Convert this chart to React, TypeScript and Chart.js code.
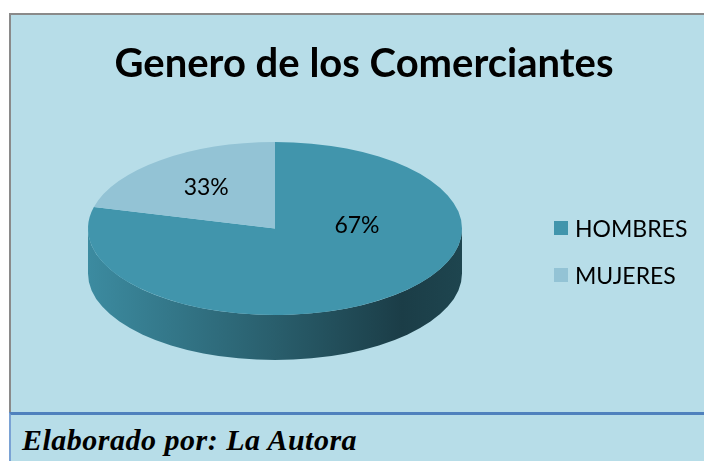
import React, { useEffect, useRef } from "react";
import { Chart, registerables } from "chart.js";

Chart.register(...registerables);

// ---- data ----
const TITLE = "Genero de los Comerciantes";
const SOURCE = "Elaborado por: La Autora";
const categories = ["HOMBRES", "MUJERES"];
// slice sizes as they appear in the picture
const shares = [79, 21];
// percentage labels printed on the slices
const pctLabels = ["67%", "33%"];
const sliceColors = ["#4195ac", "#93c3d5"];

const BG = "#b7dde8";

function shade(hex: string, f: number): string {
  const h = hex.replace("#", "");
  const r = Math.round(parseInt(h.slice(0, 2), 16) * f);
  const g = Math.round(parseInt(h.slice(2, 4), 16) * f);
  const b = Math.round(parseInt(h.slice(4, 6), 16) * f);
  return `rgb(${r},${g},${b})`;
}

function geom(chart: any, depth: number) {
  const a = chart.chartArea;
  const cx = (a.left + a.right) / 2;
  const rx = (a.right - a.left) / 2;
  const ry = (a.bottom - a.top - depth) / 2;
  const cy = a.top + ry;
  return { cx, cy, rx, ry };
}

const pie3d = {
  id: "pie3d",
  beforeDatasetsDraw(chart: any, _args: any, opts: any) {
    const ctx = chart.ctx as CanvasRenderingContext2D;
    const depth = opts.depth;
    const { cx, cy, rx, ry } = geom(chart, depth);
    const meta = chart.getDatasetMeta(0);
    const TAU = Math.PI * 2;
    // front side walls
    meta.data.forEach((arc: any) => {
      const s = arc.startAngle;
      const e = arc.endAngle;
      const color = arc.options.backgroundColor as string;
      for (let k = -1; k <= 1; k++) {
        const lo = Math.max(s, k * TAU);
        const hi = Math.min(e, k * TAU + Math.PI);
        if (hi > lo) {
          const a1 = lo - k * TAU;
          const a2 = hi - k * TAU;
          const g = ctx.createLinearGradient(cx - rx, 0, cx + rx, 0);
          g.addColorStop(0, shade(color, 0.93));
          g.addColorStop(0.5, shade(color, 0.63));
          g.addColorStop(0.84, shade(color, 0.41));
          g.addColorStop(1, shade(color, 0.46));
          ctx.beginPath();
          ctx.ellipse(cx, cy, rx, ry, 0, a1, a2);
          ctx.ellipse(cx, cy + depth, rx, ry, 0, a2, a1, true);
          ctx.closePath();
          ctx.fillStyle = g;
          ctx.fill();
        }
      }
    });
    // flatten the top face
    const arc0 = meta.data[0];
    const R = arc0.outerRadius;
    ctx.save();
    ctx.translate(cx, cy);
    ctx.scale(rx / R, ry / R);
    ctx.translate(-arc0.x, -arc0.y);
  },
  afterDatasetsDraw(chart: any, _args: any, opts: any) {
    const ctx = chart.ctx as CanvasRenderingContext2D;
    ctx.restore();
    const { cx, cy, rx, ry } = geom(chart, opts.depth);
    const meta = chart.getDatasetMeta(0);
    ctx.save();
    ctx.font = opts.font;
    ctx.fillStyle = "#000";
    ctx.textAlign = "center";
    ctx.textBaseline = "middle";
    meta.data.forEach((arc: any, i: number) => {
      const place = (opts.labelPlacement && opts.labelPlacement[i]) || {};
      const mid =
        place.angle != null ? (place.angle * Math.PI) / 180 : (arc.startAngle + arc.endAngle) / 2;
      const f = place.r != null ? place.r : 0.57;
      ctx.fillText(opts.labels[i], cx + Math.cos(mid) * rx * f, cy + Math.sin(mid) * ry * f);
    });
    ctx.restore();
  },
};

function PieChart() {
  const ref = useRef<HTMLCanvasElement | null>(null);
  useEffect(() => {
    if (!ref.current) return;
    const chart = new Chart(ref.current, {
      type: "pie",
      data: {
        labels: categories,
        datasets: [
          {
            data: shares,
            backgroundColor: sliceColors,
            borderWidth: 0,
            hoverOffset: 0,
            clip: false,
          } as any,
        ],
      },
      options: {
        animation: false,
        responsive: false,
        maintainAspectRatio: false,
        events: [],
        layout: { padding: { left: 77, top: 127, right: 242, bottom: 52 } },
        plugins: {
          legend: { display: false },
          tooltip: { enabled: false },
          title: { display: false },
          pie3d: {
            depth: 45,
            labels: pctLabels,
            font: "23px Lato",
            labelPlacement: [{ angle: -5, r: 0.44 }, { r: 0.6 }],
          },
        } as any,
      },
      plugins: [pie3d as any],
    });
    return () => chart.destroy();
  }, []);
  return (
    <canvas
      ref={ref}
      width={693}
      height={397}
      style={{ position: "absolute", left: 11, top: 15, width: 693, height: 397 }}
    />
  );
}

export default function App() {
  return (
    <div
      style={{
        position: "absolute",
        left: 0,
        top: 0,
        width: 704,
        height: 461,
        background: "#fff",
        overflow: "hidden",
        fontFamily: "Lato, sans-serif",
      }}
    >
      <div
        style={{
          position: "absolute",
          left: 9,
          top: 13,
          width: 695,
          height: 399,
          boxSizing: "border-box",
          borderTop: "2px solid #8a8a8a",
          borderLeft: "2px solid #8a8a8a",
          background: BG,
        }}
      />
      <PieChart />
      <div
        style={{
          position: "absolute",
          left: 364,
          top: 62,
          transform: "translate(-50%, -50%)",
          whiteSpace: "nowrap",
          fontWeight: 700,
          fontSize: 40,
          lineHeight: 1,
          color: "#000",
        }}
      >
        {TITLE}
      </div>
      <div
        style={{
          position: "absolute",
          left: 554,
          top: 216,
          display: "flex",
          flexDirection: "column",
          gap: 23,
        }}
      >
        {categories.map((c, i) => (
          <div key={c} style={{ display: "flex", alignItems: "center", height: 24 }}>
            <span
              style={{
                display: "inline-block",
                width: 14,
                height: 14,
                background: sliceColors[i],
                marginRight: 7,
              }}
            />
            <span style={{ fontSize: 23, lineHeight: "24px", color: "#000" }}>{c}</span>
          </div>
        ))}
      </div>
      <div
        style={{
          position: "absolute",
          left: 9,
          top: 412,
          width: 695,
          height: 49,
          boxSizing: "border-box",
          borderTop: "3px solid #4f81bd",
          borderLeft: "2px solid #7aa2d4",
          background: BG,
        }}
      />
      <div
        style={{
          position: "absolute",
          left: 22,
          top: 425,
          whiteSpace: "nowrap",
          fontFamily: "'Liberation Serif', serif",
          fontStyle: "italic",
          fontWeight: 700,
          fontSize: 30,
          letterSpacing: 0.5,
          lineHeight: 1,
          color: "#000",
        }}
      >
        {SOURCE}
      </div>
    </div>
  );
}
